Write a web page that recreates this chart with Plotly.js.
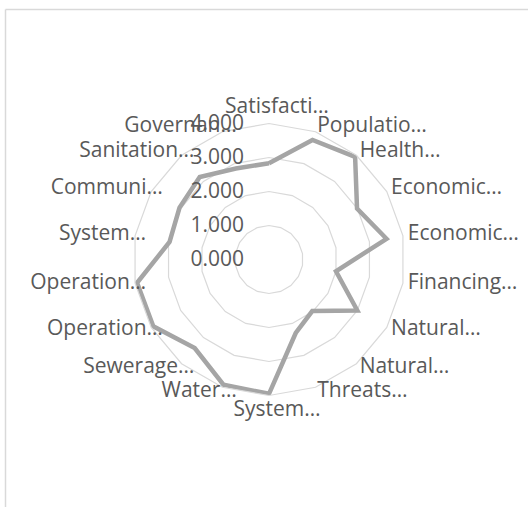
<!DOCTYPE html>
<html>
<head>
<meta charset="utf-8">
<script src="https://cdn.plot.ly/plotly-3.0.1.min.js"></script>
<style>
  html, body { margin: 0; padding: 0; background: #fff; }
  #chart { width: 528px; height: 507px; }
</style>
</head>
<body>
<div id="chart"></div>
<script>
const categories = [
  "Satisfacti…", "Populatio…", "Health…", "Economic…", "Economic…",
  "Financing…", "Natural…", "Natural…", "Threats…", "System…",
  "Water…", "Sewerage…", "Operation…", "Operation…", "System…",
  "Communi…", "Sanitation…", "Governan…"
];
const values = [
  2.83, 3.74, 3.94, 2.99, 3.51,
  2.00, 3.00, 1.98, 2.30, 3.95,
  3.92, 3.40, 3.93, 3.94, 2.97,
  3.04, 3.17, 2.85
];
const radialTicks = [0, 1, 2, 3, 4];

const W = 528, H = 507;
const cx = 269, cy = 259.5, R = 136;   // plot centre and outer radius (px)
const RMAX = 4;
const FONT = "Open Sans, sans-serif";
const TXT = "#595959";

const n = categories.length;
// unique keys so repeated labels stay separate categories
const keys = categories.map((c, i) => "k" + i);
const thetaClosed = keys.concat([keys[0]]);
const rClosed = values.concat([values[0]]);

const dataTrace = {
  type: "scatterpolar",
  subplot: "polar",
  mode: "lines",
  r: rClosed,
  theta: thetaClosed,
  line: { color: "#A5A5A5", width: 4.5 },
  hoverinfo: "skip",
  showlegend: false
};

// Labels live in a hidden overlay polar subplot with the same centre and px scale.
const unit = R / RMAX;           // px per radial unit
const LR = 6;                    // overlay radial range
function toPolar(ox, oy) {       // px offset from centre (y down) -> overlay r/theta
  const ux = ox / unit, uy = -oy / unit;
  return [Math.hypot(ux, uy), Math.atan2(ux, uy) * 180 / Math.PI];
}

// category labels, Excel-style just outside each polygon vertex
const pad = 5, shift = 16;
const labR = [], labT = [], labPos = [];
for (let i = 0; i < n; i++) {
  const a = i * 2 * Math.PI / n;
  const s = Math.sin(a), c = Math.cos(a);
  let ox = R * s + pad * s, oy = -R * c - pad * c, pos;
  if (s > 0.2) { pos = "middle right"; }
  else if (s < -0.2) { pos = "middle left"; ox += shift; }
  else { pos = c > 0 ? "top center" : "bottom center"; ox += shift / 2; }
  const p = toPolar(ox, oy);
  labR.push(p[0]); labT.push(p[1]); labPos.push(pos);
}
const labelTrace = {
  type: "scatterpolar",
  subplot: "polar2",
  mode: "text",
  r: labR,
  theta: labT,
  text: categories,
  textposition: labPos,
  textfont: { family: FONT, size: 21, color: TXT },
  cliponaxis: false,
  hoverinfo: "skip",
  showlegend: false
};

// radial value labels, left of the vertical value axis
const tickGap = 25, tickDrop = 1.5;
const tkR = [], tkT = [];
radialTicks.forEach(v => {
  const p = toPolar(-tickGap, -v * unit + tickDrop);
  tkR.push(p[0]); tkT.push(p[1]);
});
const tickTrace = {
  type: "scatterpolar",
  subplot: "polar2",
  mode: "text",
  r: tkR,
  theta: tkT,
  text: radialTicks.map(v => v.toFixed(3)),
  textposition: "middle left",
  textfont: { family: FONT, size: 21, color: TXT },
  cliponaxis: false,
  hoverinfo: "skip",
  showlegend: false
};

const dom = (rad) => ({
  x: [(cx - rad) / W, (cx + rad) / W],
  y: [(H - cy - rad) / H, (H - cy + rad) / H]
});

const layout = {
  width: W, height: H,
  margin: { l: 0, r: 0, t: 0, b: 0 },
  paper_bgcolor: "#ffffff",
  plot_bgcolor: "#ffffff",
  font: { family: FONT, size: 21, color: TXT },
  showlegend: false,
  polar: {
    domain: dom(R),
    bgcolor: "rgba(0,0,0,0)",
    gridshape: "linear",
    angularaxis: {
      type: "category",
      categoryorder: "array",
      categoryarray: keys,
      rotation: 90,
      direction: "clockwise",
      showgrid: false,
      showticklabels: false,
      showline: true,
      linecolor: "#D9D9D9",
      linewidth: 1.2,
      ticks: ""
    },
    radialaxis: {
      range: [0, RMAX],
      angle: 90,
      tickmode: "array",
      tickvals: radialTicks,
      showticklabels: false,
      showline: false,
      showgrid: true,
      gridcolor: "#D9D9D9",
      gridwidth: 1.2,
      ticks: ""
    }
  },
  polar2: {
    domain: dom(unit * LR),
    bgcolor: "rgba(0,0,0,0)",
    angularaxis: {
      visible: false, showgrid: false, showline: false, showticklabels: false,
      rotation: 90, direction: "clockwise", thetaunit: "degrees"
    },
    radialaxis: {
      visible: false, showgrid: false, showline: false, showticklabels: false,
      range: [0, LR]
    }
  },
  shapes: [
    { type: "line", xref: "paper", yref: "paper",
      x0: 5.5 / W, x1: 5.5 / W, y0: 0, y1: 1 - 9.5 / H,
      line: { color: "#D9D9D9", width: 1.5 } },
    { type: "line", xref: "paper", yref: "paper",
      x0: 5.5 / W, x1: 1, y0: 1 - 9.5 / H, y1: 1 - 9.5 / H,
      line: { color: "#D9D9D9", width: 1.5 } }
  ]
};

Plotly.newPlot("chart", [dataTrace, labelTrace, tickTrace], layout, { displayModeBar: false, staticPlot: true });
</script>
</body>
</html>
